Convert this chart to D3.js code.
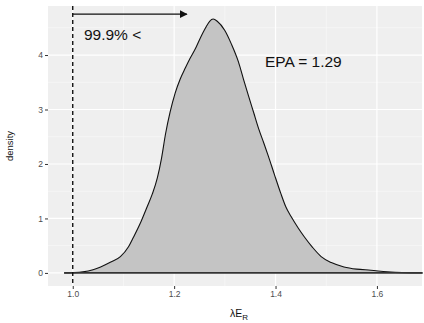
<!DOCTYPE html>
<html>
<head>
<meta charset="utf-8">
<script src="https://cdn.jsdelivr.net/npm/d3@7"></script>
<style>
  body { margin: 0; background: #fff; }
  svg { display: block; font-family: "Liberation Sans", Arial, sans-serif; }
</style>
</head>
<body>
<div id="chart"></div>
<script>
// density curve
const xVals = [0.983, 1.0, 1.02, 1.04, 1.055, 1.075, 1.094, 1.11, 1.12, 1.135, 1.147, 1.157, 1.167, 1.175,
  1.183, 1.192, 1.202, 1.212, 1.222, 1.231, 1.241, 1.251, 1.262, 1.27, 1.277, 1.285, 1.30, 1.313, 1.327,
  1.337, 1.347, 1.357, 1.367, 1.377, 1.386, 1.398, 1.41, 1.42, 1.431, 1.445, 1.457, 1.473, 1.49, 1.51,
  1.535, 1.56, 1.588, 1.62, 1.65, 1.69];
const densVals = [0, 0.005, 0.02, 0.06, 0.11, 0.2, 0.3, 0.48, 0.66, 0.95, 1.22, 1.45, 1.75, 2.1,
  2.55, 2.95, 3.3, 3.56, 3.76, 3.93, 4.1, 4.3, 4.5, 4.62, 4.66, 4.62, 4.45, 4.2, 3.87,
  3.55, 3.24, 2.94, 2.64, 2.38, 2.14, 1.8, 1.47, 1.22, 1.03, 0.82, 0.66, 0.47, 0.3, 0.19,
  0.11, 0.07, 0.05, 0.02, 0.005, 0];
const xTicks = [1.0, 1.2, 1.4, 1.6];
const xMinor = [1.1, 1.3, 1.5];
const yTicks = [0, 1, 2, 3, 4];
const yMinor = [0.5, 1.5, 2.5, 3.5, 4.5];
const threshold = 1.0;
const arrowEnd = 1.225;
const arrowY = 4.75;
const pctLabel = "99.9% <";
const epaLabel = "EPA = 1.29";

const W = 424, H = 323;
const margin = {top: 6, right: 2, bottom: 37, left: 48};
const pw = W - margin.left - margin.right;
const ph = H - margin.top - margin.bottom;

const x = d3.scaleLinear().domain([0.9512, 1.6889]).range([0, pw]);
const y = d3.scaleLinear().domain([-0.24, 4.9]).range([ph, 0]);

const svg = d3.select("#chart").append("svg").attr("width", W).attr("height", H);
const g = svg.append("g").attr("transform", `translate(${margin.left},${margin.top})`);

// panel
g.append("rect").attr("width", pw).attr("height", ph).attr("fill", "#efefef");

g.selectAll(".xminor").data(xMinor).enter().append("line")
  .attr("x1", d => x(d)).attr("x2", d => x(d)).attr("y1", 0).attr("y2", ph)
  .attr("stroke", "#fafafa").attr("stroke-width", 0.6);
g.selectAll(".yminor").data(yMinor).enter().append("line")
  .attr("y1", d => y(d)).attr("y2", d => y(d)).attr("x1", 0).attr("x2", pw)
  .attr("stroke", "#fafafa").attr("stroke-width", 0.6);
g.selectAll(".xmajor").data(xTicks).enter().append("line")
  .attr("x1", d => x(d)).attr("x2", d => x(d)).attr("y1", 0).attr("y2", ph)
  .attr("stroke", "#fff").attr("stroke-width", 1.2);
g.selectAll(".ymajor").data(yTicks).enter().append("line")
  .attr("y1", d => y(d)).attr("y2", d => y(d)).attr("x1", 0).attr("x2", pw)
  .attr("stroke", "#fff").attr("stroke-width", 1.2);

// density
const pts = xVals.map((v, i) => [v, densVals[i]]);
const area = d3.area().x(d => x(d[0])).y0(y(0)).y1(d => y(d[1])).curve(d3.curveMonotoneX);
const line = d3.line().x(d => x(d[0])).y(d => y(d[1])).curve(d3.curveMonotoneX);
g.append("path").datum(pts).attr("d", area).attr("fill", "#c4c4c4");
g.append("path").datum(pts).attr("d", line).attr("fill", "none").attr("stroke", "#111").attr("stroke-width", 1.1);
g.append("line")
  .attr("x1", x(xVals[0])).attr("x2", x(xVals[xVals.length - 1]))
  .attr("y1", y(0)).attr("y2", y(0))
  .attr("stroke", "#333").attr("stroke-width", 1.8);

// threshold
g.append("line")
  .attr("x1", x(threshold)).attr("x2", x(threshold)).attr("y1", 0).attr("y2", ph)
  .attr("stroke", "#111").attr("stroke-width", 1.4).attr("stroke-dasharray", "4,3");

// arrow
svg.append("defs").append("marker")
  .attr("id", "arr").attr("viewBox", "0 0 10 10").attr("refX", 9).attr("refY", 5)
  .attr("markerWidth", 8).attr("markerHeight", 8).attr("markerUnits", "userSpaceOnUse")
  .attr("orient", "auto")
  .append("path").attr("d", "M0,0L10,5L0,10Z").attr("fill", "#111");
g.append("line")
  .attr("x1", x(threshold)).attr("x2", x(arrowEnd))
  .attr("y1", y(arrowY)).attr("y2", y(arrowY))
  .attr("stroke", "#111").attr("stroke-width", 1.4).attr("marker-end", "url(#arr)");

g.append("text").attr("x", x(1.022)).attr("y", y(4.27))
  .attr("font-size", 15.5).attr("fill", "#111").text(pctLabel);
g.append("text").attr("x", x(1.379)).attr("y", y(3.78))
  .attr("font-size", 15.5).attr("fill", "#111").text(epaLabel);

// axes
const xAxis = g.append("g").attr("transform", `translate(0,${ph})`)
  .call(d3.axisBottom(x).tickValues(xTicks).tickFormat(d3.format(".1f")).tickSize(3).tickPadding(2));
const yAxis = g.append("g")
  .call(d3.axisLeft(y).tickValues(yTicks).tickFormat(d3.format("d")).tickSize(3).tickPadding(2));
[xAxis, yAxis].forEach(a => {
  a.select(".domain").remove();
  a.selectAll(".tick line").attr("stroke", "#333");
  a.selectAll("text").attr("fill", "#4d4d4d").attr("font-size", 8.5);
});

// titles
const xt = svg.append("text").attr("x", margin.left + pw / 2 + 4).attr("y", 317)
  .attr("text-anchor", "middle").attr("font-size", 10.5).attr("fill", "#111");
xt.append("tspan").text("λE");
xt.append("tspan").attr("dy", 3).attr("font-size", 8).text("R");

svg.append("text").attr("transform", `translate(13,${margin.top + ph / 2}) rotate(-90)`)
  .attr("text-anchor", "middle").attr("font-size", 9.5).attr("fill", "#111").text("density");
</script>
</body>
</html>
